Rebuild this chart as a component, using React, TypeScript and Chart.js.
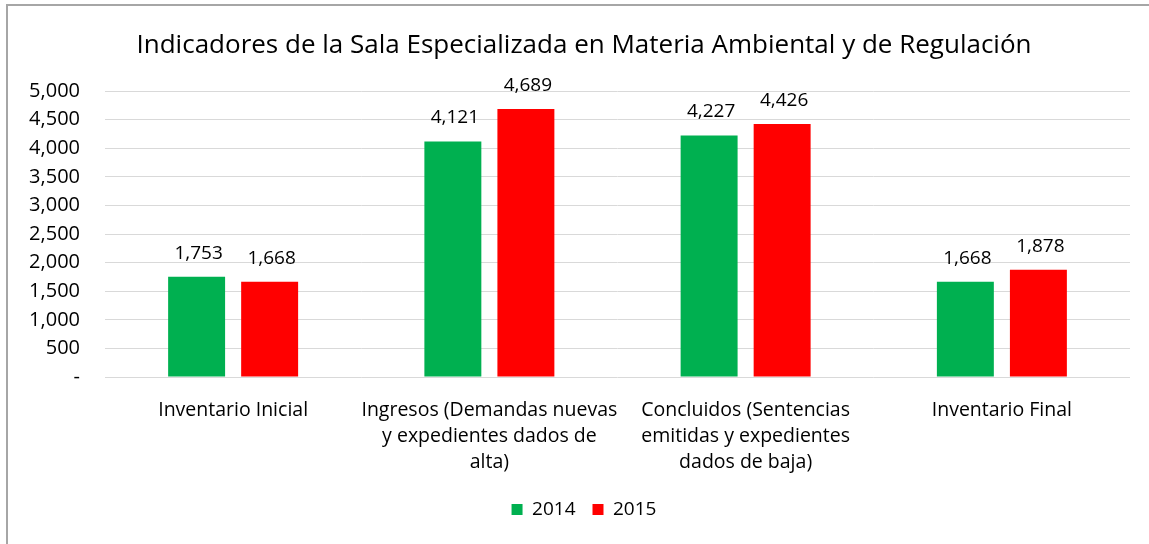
import React, { useEffect, useRef } from "react";
import { Chart, registerables } from "chart.js";

Chart.register(...registerables);

const categories: string[][] = [
  ["Inventario Inicial"],
  ["Ingresos (Demandas nuevas", "y expedientes dados de", "alta)"],
  ["Concluidos (Sentencias", "emitidas y expedientes", "dados de baja)"],
  ["Inventario Final"],
];
const seriesNames = ["2014", "2015"];
const values2014 = [1753, 4121, 4227, 1668];
const values2015 = [1668, 4689, 4426, 1878];
const colors = ["#00B050", "#FF0000"];
const titleText = "Indicadores de la Sala Especializada en Materia Ambiental y de Regulación";

const FONT = "'Open Sans', sans-serif";

const fmt = (v: number) => (v === 0 ? "-" : v.toLocaleString("en-US"));

const labelPlugin = {
  id: "barLabels",
  afterDatasetsDraw(chart: any) {
    const ctx = chart.ctx;
    ctx.save();
    ctx.font = `19px ${FONT}`;
    ctx.fillStyle = "#000";
    ctx.textAlign = "center";
    ctx.textBaseline = "bottom";
    chart.data.datasets.forEach((ds: any, i: number) => {
      const meta = chart.getDatasetMeta(i);
      meta.data.forEach((bar: any, j: number) => {
        ctx.fillText(fmt(ds.data[j]), bar.x + 2, bar.y - 14);
      });
    });
    ctx.restore();
  },
};

const yTickPlugin = {
  id: "yTicks",
  afterDraw(chart: any) {
    const ctx = chart.ctx;
    const scale = chart.scales.y;
    ctx.save();
    ctx.font = `20px ${FONT}`;
    ctx.fillStyle = "#000";
    ctx.textAlign = "right";
    ctx.textBaseline = "middle";
    scale.ticks.forEach((t: any) => {
      ctx.fillText(fmt(t.value), chart.chartArea.left - 25, scale.getPixelForValue(t.value));
    });
    ctx.restore();
  },
};

export default function App() {
  const ref = useRef<HTMLCanvasElement>(null);
  useEffect(() => {
    if (!ref.current) return;
    const chart = new Chart(ref.current, {
      type: "bar",
      data: {
        labels: categories,
        datasets: [
          { label: seriesNames[0], data: values2014, backgroundColor: colors[0] },
          { label: seriesNames[1], data: values2015, backgroundColor: colors[1] },
        ],
      },
      options: {
        animation: false,
        responsive: false,
        devicePixelRatio: 1,
        layout: { padding: { left: 38, right: 19, top: 0, bottom: 15 } },
        datasets: { bar: { categoryPercentage: 0.57, barPercentage: 0.78 } },
        plugins: {
          title: {
            display: true,
            text: titleText,
            color: "#000",
            font: { family: FONT, size: 26, weight: "normal" },
            padding: { top: 30, bottom: 30 },
          },
          legend: {
            position: "bottom",
            labels: {
              color: "#000",
              font: { family: FONT, size: 19 },
              boxWidth: 11,
              boxHeight: 11,
              padding: 17,
            },
          },
          tooltip: { enabled: false },
        },
        scales: {
          x: {
            grid: { display: false },
            border: { display: false },
            ticks: {
              color: "#000",
              font: { family: FONT, size: 19.5, lineHeight: 1.333 },
              padding: 12,
              maxRotation: 0,
              autoSkip: false,
            },
            afterFit: (s: any) => {
              s.height -= 4;
            },
          },
          y: {
            min: 0,
            max: 5000,
            grid: { color: "#D9D9D9", drawTicks: false, lineWidth: 1 },
            border: { display: false },
            ticks: {
              stepSize: 500,
              display: false,
            },
            afterFit: (s: any) => {
              s.width = 67;
            },
          },
        },
      },
      plugins: [labelPlugin, yTickPlugin],
    } as any);
    return () => chart.destroy();
  }, []);
  return (
    <div style={{ position: "fixed", left: 0, top: 0, width: 1149, height: 544, background: "#fff" }}>
      <canvas ref={ref} width={1149} height={544} style={{ position: "absolute", left: 0, top: 0 }} />
      <div
        style={{
          position: "absolute",
          left: 6,
          top: 4,
          width: 1300,
          height: 700,
          borderTop: "2px solid #A6A6A6",
          borderLeft: "2px solid #A6A6A6",
          pointerEvents: "none",
        }}
      />
    </div>
  );
}
